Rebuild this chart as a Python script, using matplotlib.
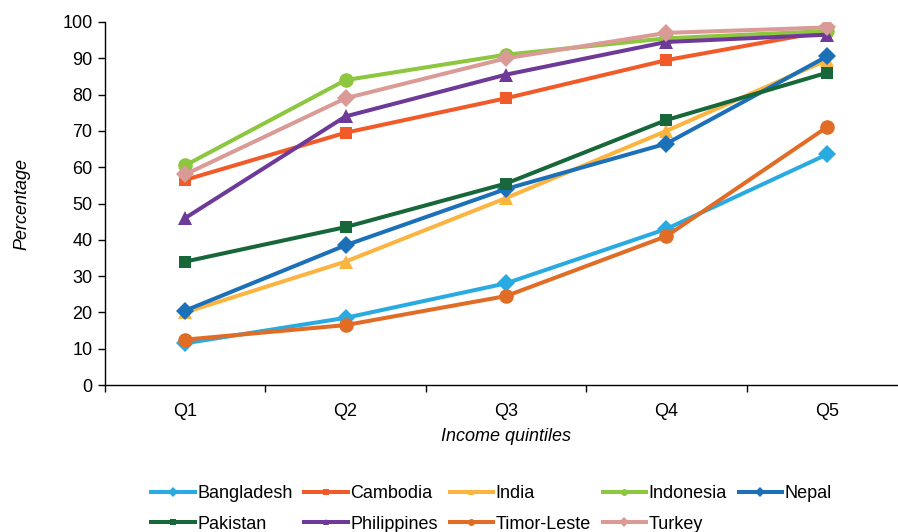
import matplotlib
matplotlib.use("Agg")
import matplotlib.pyplot as plt
from matplotlib.ticker import MultipleLocator, FixedLocator

plt.rcParams['font.family'] = ['Liberation Sans', 'DejaVu Sans']

quintiles = ["Q1", "Q2", "Q3", "Q4", "Q5"]
bangladesh = [11.5, 18.5, 28.0, 43.0, 63.5]
cambodia = [56.5, 69.5, 79.0, 89.5, 97.5]
india = [20.0, 34.0, 51.5, 70.0, 89.5]
indonesia = [60.5, 84.0, 91.0, 95.5, 97.5]
nepal = [20.5, 38.5, 54.0, 66.5, 90.5]
pakistan = [34.0, 43.5, 55.5, 73.0, 86.0]
philippines = [46.0, 74.0, 85.5, 94.5, 96.5]
timor_leste = [12.5, 16.5, 24.5, 41.0, 71.0]
turkey = [58.0, 79.0, 90.0, 97.0, 98.5]

series = [
    ("Bangladesh", bangladesh, "#29ABE2", "D", 9),
    ("Cambodia", cambodia, "#F15A29", "s", 9),
    ("India", india, "#FBB440", "^", 10.5),
    ("Indonesia", indonesia, "#8DC63F", "o", 10.5),
    ("Nepal", nepal, "#1C70B8", "D", 9),
    ("Pakistan", pakistan, "#17673A", "s", 9),
    ("Philippines", philippines, "#6E3A98", "^", 10.5),
    ("Timor-Leste", timor_leste, "#E06C26", "o", 10.5),
    ("Turkey", turkey, "#DA9A96", "D", 9),
]

FS = 13

fig = plt.figure(figsize=(8.98, 5.32), dpi=100)
ax = fig.add_axes([105/898, 1 - 385/532, 802/898, 363/532])

x = list(range(len(quintiles)))
handles = {}
for name, vals, col, mk, ms in series:
    h, = ax.plot(x, vals, color=col, marker=mk, markersize=ms, linewidth=2.9,
                 label=name, markeredgewidth=0)
    handles[name] = h

ax.set_xlim(-0.5, 4.5)
ax.set_ylim(0, 100)
ax.yaxis.set_major_locator(MultipleLocator(10))
ax.set_xticks(x)
ax.set_xticklabels(quintiles)
ax.xaxis.set_minor_locator(FixedLocator([-0.5, 0.5, 1.5, 2.5, 3.5, 4.5]))
ax.tick_params(axis='x', which='major', length=0, labelsize=FS, pad=13)
ax.tick_params(axis='x', which='minor', length=5, width=1, direction='out')
ax.tick_params(axis='y', which='major', length=5, width=1, direction='out', labelsize=FS, pad=4)

for s in ['top', 'right']:
    ax.spines[s].set_visible(False)
for s in ['left', 'bottom']:
    ax.spines[s].set_linewidth(1.0)
    ax.spines[s].set_color('black')

ax.set_ylabel("Percentage", fontsize=FS, style='italic', labelpad=23)
ax.set_xlabel("Income quintiles", fontsize=FS, style='italic', labelpad=6)

# matplotlib fills legend columns first; reorder so rows read like the reference
order = ["Bangladesh", "Pakistan", "Cambodia", "Philippines", "India",
         "Timor-Leste", "Indonesia", "Turkey", "Nepal"]
leg = fig.legend([handles[n] for n in order], order,
                 loc='upper left', bbox_to_anchor=(144/898, 1 - 478/532), ncol=5,
                 frameon=False, fontsize=FS, handlelength=2.4, handletextpad=0.15,
                 columnspacing=0.65, labelspacing=0.75, borderaxespad=0)
for h in leg.legend_handles:
    h.set_markersize(5)
    h.set_linewidth(2.9)

fig.savefig("out.png", dpi=100)
